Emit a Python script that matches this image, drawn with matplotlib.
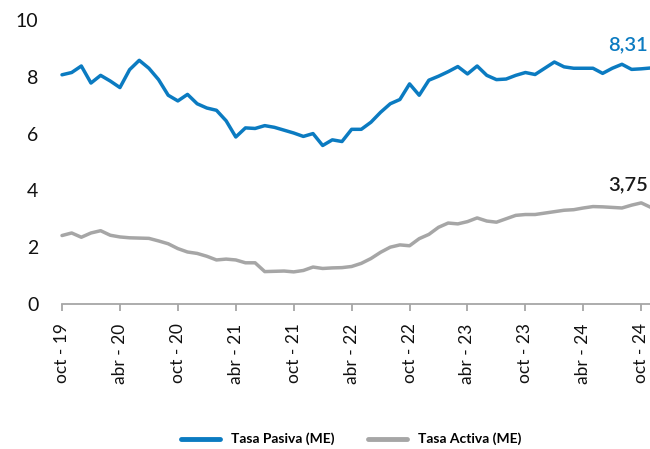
import matplotlib
matplotlib.use('Agg')
from matplotlib import pyplot as plt

# monthly series, oct-19 .. nov-24
tasa_pasiva = [8.07, 8.15, 8.38, 7.78, 8.05, 7.85, 7.62, 8.25, 8.58, 8.30,
               7.90, 7.35, 7.15, 7.38, 7.05, 6.90, 6.82, 6.45, 5.88, 6.20,
               6.18, 6.28, 6.22, 6.12, 6.02, 5.90, 6.00, 5.58, 5.78, 5.72,
               6.15, 6.15, 6.40, 6.75, 7.05, 7.20, 7.75, 7.35, 7.88, 8.02,
               8.18, 8.36, 8.10, 8.38, 8.05, 7.90, 7.92, 8.05, 8.15, 8.08,
               8.30, 8.52, 8.35, 8.30, 8.30, 8.30, 8.12, 8.30, 8.44, 8.26,
               8.28, 8.31]
tasa_activa = [2.41, 2.50, 2.35, 2.50, 2.58, 2.42, 2.36, 2.33, 2.32, 2.31,
               2.22, 2.12, 1.95, 1.83, 1.78, 1.68, 1.55, 1.58, 1.55, 1.45,
               1.45, 1.14, 1.15, 1.16, 1.13, 1.18, 1.30, 1.25, 1.27, 1.28,
               1.32, 1.43, 1.60, 1.82, 2.00, 2.08, 2.05, 2.30, 2.45, 2.70,
               2.85, 2.82, 2.90, 3.03, 2.92, 2.88, 3.00, 3.12, 3.15, 3.15,
               3.20, 3.25, 3.30, 3.32, 3.38, 3.43, 3.42, 3.40, 3.38, 3.48,
               3.56, 3.40]
tick_labels = ['oct - 19', 'abr - 20', 'oct - 20', 'abr - 21', 'oct - 21',
               'abr - 22', 'oct - 22', 'abr - 23', 'oct - 23', 'abr - 24',
               'oct - 24']
label_pasiva = '8,31'
label_activa = '3,75'

BLUE = '#0B7BC1'
GREY = '#A6A6A6'


def main():
    plt.rcParams['font.family'] = ['Lato', 'DejaVu Sans']

    fig = plt.figure(figsize=(6.5, 4.49), dpi=100)
    ax = fig.add_axes([0.0954, 0.323, 0.906, 0.6325])

    x = list(range(len(tasa_pasiva)))
    l1, = ax.plot(x, tasa_pasiva, color=BLUE, lw=2.5, solid_joinstyle='round',
                  solid_capstyle='round', clip_on=False)
    l1.set_label('Tasa Pasiva (ME)')
    l2, = ax.plot(x, tasa_activa, color=GREY, lw=2.5, solid_joinstyle='round',
                  solid_capstyle='round', clip_on=False)
    l2.set_label('Tasa Activa (ME)')

    # end-of-series labels
    ax.annotate(label_pasiva, xy=(x[-1], tasa_pasiva[-1]), xytext=(-2, 17),
                textcoords='offset points', ha='right', va='center',
                color=BLUE, fontsize=14.5, fontweight='semibold')
    ax.annotate(label_activa, xy=(x[-1], tasa_activa[-1]), xytext=(-2, 16),
                textcoords='offset points', ha='right', va='center',
                color='#1a1a1a', fontsize=14.5, fontweight='semibold')

    ax.set_xlim(0, len(x) - 1)
    ax.set_ylim(0, 10)
    ax.set_yticks([0, 2, 4, 6, 8, 10])
    ax.set_yticklabels(['0', '2', '4', '6', '8', '10'])
    ax.set_xticks(list(range(0, 61, 6)))
    ax.set_xticklabels(tick_labels, rotation=90)

    for side in ['top', 'right', 'left']:
        ax.spines[side].set_visible(False)
    ax.spines['bottom'].set_color(GREY)
    ax.spines['bottom'].set_linewidth(1.3)

    ax.tick_params(axis='y', length=0, pad=17, labelsize=14, labelcolor='#111111')
    ax.tick_params(axis='x', direction='out', length=5, width=1.3, color=GREY,
                   pad=9, labelsize=12.5, labelcolor='#111111')

    fig.legend(handles=[l1, l2], loc='center', bbox_to_anchor=(0.54, 0.022),
               ncol=2, frameon=False, handlelength=2.8, handleheight=0.6,
               columnspacing=2.4, prop={'size': 10, 'weight': 'bold'})
    for line in fig.legends[0].get_lines():
        line.set_linewidth(3.5)

    fig.savefig('out.png', dpi=100)


if __name__ == '__main__':
    main()
